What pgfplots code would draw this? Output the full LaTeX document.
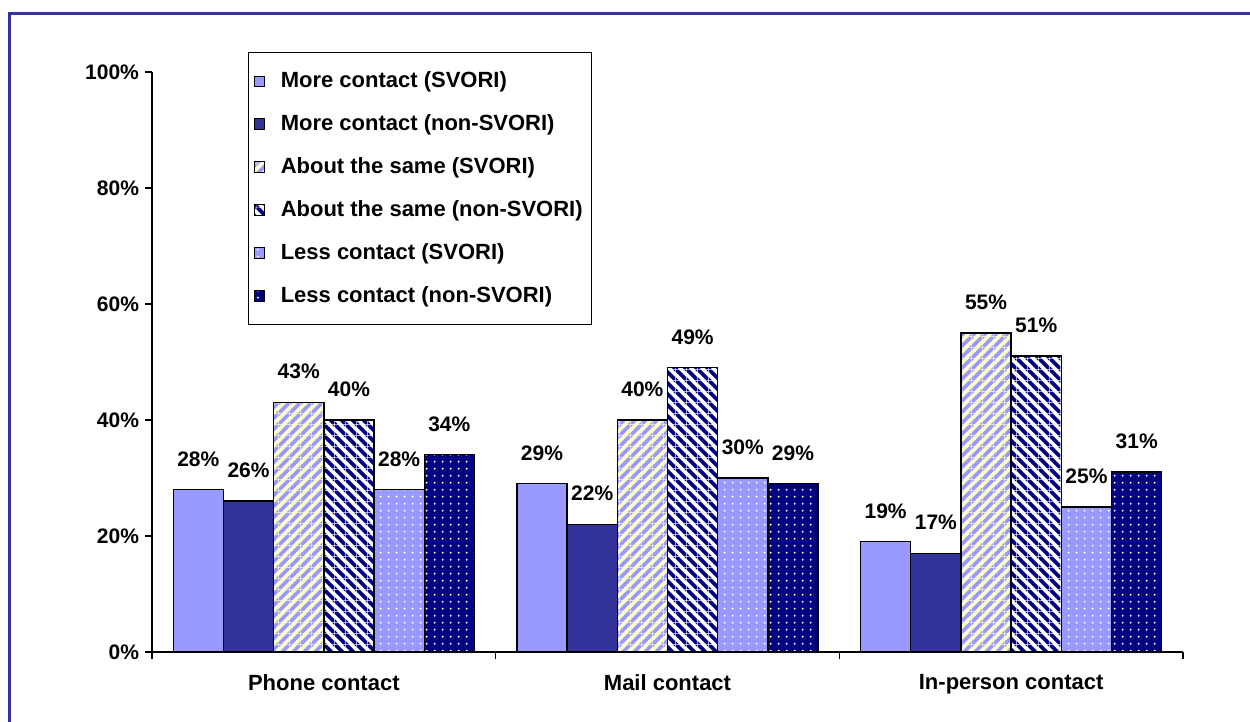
\documentclass[border=0pt]{standalone}
\usepackage{fontspec}
\setmainfont{Liberation Sans}
\usepackage{pgfplots}
\pgfplotsset{compat=1.18}
\usetikzlibrary{patterns}
\definecolor{lb}{HTML}{9999FF}
\definecolor{db}{HTML}{333399}
\definecolor{nv}{HTML}{000080}
\definecolor{py}{HTML}{FFFFCC}
\pgfdeclarepatternformonly{stripesNE}{\pgfqpoint{0pt}{0pt}}{\pgfqpoint{5.6pt}{5.6pt}}{\pgfqpoint{5.6pt}{5.6pt}}{%
  \pgfpathmoveto{\pgfqpoint{0pt}{0pt}}%
  \pgfpathlineto{\pgfqpoint{1.4pt}{0pt}}%
  \pgfpathlineto{\pgfqpoint{5.6pt}{4.2pt}}%
  \pgfpathlineto{\pgfqpoint{5.6pt}{5.6pt}}%
  \pgfpathlineto{\pgfqpoint{4.2pt}{5.6pt}}%
  \pgfpathlineto{\pgfqpoint{0pt}{1.4pt}}%
  \pgfpathclose
  \pgfpathmoveto{\pgfqpoint{4.2pt}{0pt}}%
  \pgfpathlineto{\pgfqpoint{5.6pt}{0pt}}%
  \pgfpathlineto{\pgfqpoint{5.6pt}{1.4pt}}%
  \pgfpathclose
  \pgfpathmoveto{\pgfqpoint{0pt}{4.2pt}}%
  \pgfpathlineto{\pgfqpoint{0pt}{5.6pt}}%
  \pgfpathlineto{\pgfqpoint{1.4pt}{5.6pt}}%
  \pgfpathclose
  \pgfusepath{fill}}
\pgfdeclarepatternformonly{stripesNW}{\pgfqpoint{0pt}{0pt}}{\pgfqpoint{5.6pt}{5.6pt}}{\pgfqpoint{5.6pt}{5.6pt}}{%
  \pgfpathmoveto{\pgfqpoint{5.6pt}{0pt}}%
  \pgfpathlineto{\pgfqpoint{5.6pt}{1.4pt}}%
  \pgfpathlineto{\pgfqpoint{1.4pt}{5.6pt}}%
  \pgfpathlineto{\pgfqpoint{0pt}{5.6pt}}%
  \pgfpathlineto{\pgfqpoint{0pt}{4.2pt}}%
  \pgfpathlineto{\pgfqpoint{4.2pt}{0pt}}%
  \pgfpathclose
  \pgfpathmoveto{\pgfqpoint{0pt}{0pt}}%
  \pgfpathlineto{\pgfqpoint{1.4pt}{0pt}}%
  \pgfpathlineto{\pgfqpoint{0pt}{1.4pt}}%
  \pgfpathclose
  \pgfpathmoveto{\pgfqpoint{5.6pt}{5.6pt}}%
  \pgfpathlineto{\pgfqpoint{4.2pt}{5.6pt}}%
  \pgfpathlineto{\pgfqpoint{5.6pt}{4.2pt}}%
  \pgfpathclose
  \pgfusepath{fill}}
\pgfdeclarepatternformonly{dotsw}{\pgfqpoint{0pt}{0pt}}{\pgfqpoint{3.85pt}{3.4pt}}{\pgfqpoint{3.85pt}{3.4pt}}{%
  \pgfpathcircle{\pgfqpoint{1.9pt}{1.7pt}}{0.55pt}%
  \pgfusepath{fill}}
\begin{document}
\begin{tikzpicture}
\useasboundingbox (0,0) rectangle (625pt,361pt);
\draw[db, line width=1.5pt] (4.75pt,-5pt) -- (4.75pt,354pt) -- (630pt,354pt);
\begin{axis}[
  at={(76pt,35pt)}, anchor=south west,
  scale only axis, width=515.5pt, height=290pt,
  ybar=0pt, bar width=25.1pt,
  xmin=-0.5, xmax=2.5, ymin=0, ymax=100,
  axis lines=left, axis line style={-, line width=0.7pt},
  xtick={0,1,2}, xticklabels={Phone contact, Mail contact, In-person contact},
  major x tick style={draw=none},
  minor xtick={-0.5,0.5,1.5,2.5},
  ytick={0,20,40,60,80,100},
  yticklabels={0\%,20\%,40\%,60\%,80\%,100\%},
  tick align=outside, tick style={black, line width=0.7pt}, major tick length=3.5pt, minor tick length=3.5pt,
  yticklabel style={font=\bfseries\fontsize{10.5}{12}\selectfont, xshift=0.5pt},
  xticklabel style={font=\bfseries\fontsize{11}{12}\selectfont, yshift=-4pt},
  nodes near coords={\pgfmathprintnumber[assume math mode=true]{\pgfplotspointmeta}\%},
  every node near coord/.append style={font=\bfseries\fontsize{10.5}{12}\selectfont, yshift=8pt, black},
  legend style={at={(axis description cs:0.0931,1.0345)}, anchor=north west,
    draw=black, line width=0.7pt, font=\bfseries\fontsize{11}{12}\selectfont, row sep=8pt,
    inner xsep=2.5pt, inner ysep=7.5pt, cells={anchor=west}},
  legend image code/.code={\draw[#1, line width=0.4pt] (0pt,-2.6pt) rectangle (5.2pt,2.6pt); \path (11pt,0pt);},
  clip=false,
]
\addplot[draw=black, line width=0.7pt, fill=lb] coordinates {(0,28) (1,29) (2,19)};
\addplot[draw=black, line width=0.7pt, fill=db] coordinates {(0,26) (1,22) (2,17)};
\addplot[draw=black, line width=0.7pt, fill=py, postaction={pattern=stripesNE, pattern color=lb}] coordinates {(0,43) (1,40) (2,55)};
\addplot[draw=black, line width=0.7pt, fill=white, postaction={pattern=stripesNW, pattern color=nv}] coordinates {(0,40) (1,49) (2,51)};
\addplot[draw=black, line width=0.7pt, fill=lb, postaction={pattern=dotsw, pattern color=white}] coordinates {(0,28) (1,30) (2,25)};
\addplot[draw=black, line width=0.7pt, fill=nv, postaction={pattern=dotsw, pattern color=white}] coordinates {(0,34) (1,29) (2,31)};
\legend{More contact (SVORI), More contact (non-SVORI), About the same (SVORI), About the same (non-SVORI), Less contact (SVORI), Less contact (non-SVORI)}
\end{axis}
\end{tikzpicture}
\end{document}
